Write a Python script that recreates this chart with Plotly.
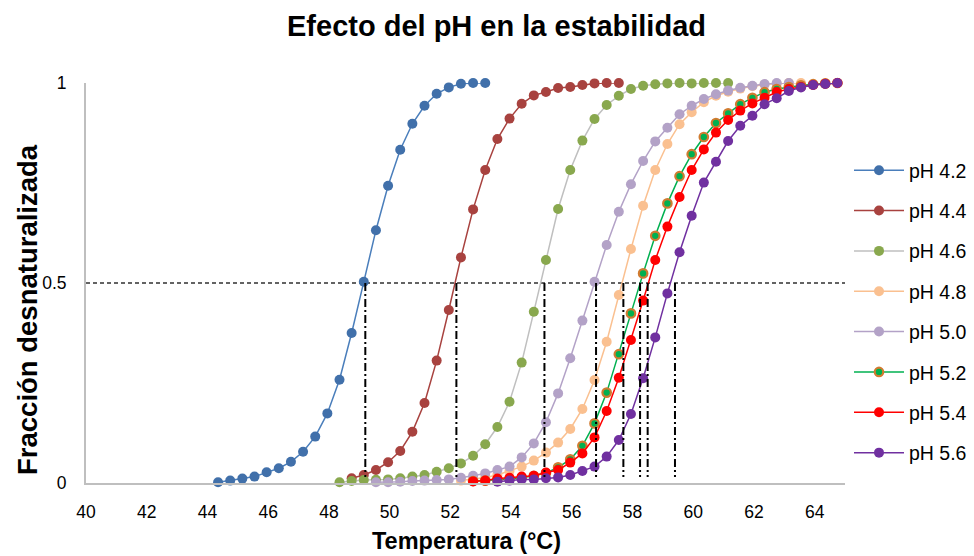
import plotly.graph_objects as go

# ---------------- data ----------------
temperatures = [44.35, 44.75, 45.15, 45.55, 45.95, 46.35, 46.75, 47.15, 47.55, 47.95,
                48.35, 48.75, 49.15, 49.55, 49.95, 50.35, 50.75, 51.15, 51.55, 51.95,
                52.35, 52.75, 53.15, 53.55, 53.95, 54.35, 54.75, 55.15, 55.55, 55.95,
                56.35, 56.75, 57.15, 57.55, 57.95, 58.35, 58.75, 59.15, 59.55, 59.95,
                60.35, 60.75, 61.15, 61.55, 61.95, 62.35, 62.75, 63.15, 63.55, 63.95,
                64.35, 64.75]

series_names = ["pH 4.2", "pH 4.4", "pH 4.6", "pH 4.8", "pH 5.0", "pH 5.2", "pH 5.4", "pH 5.6"]

# first temperature of each series
series_start = [44.35, 48.75, 48.35, 52.35, 49.55, 52.75, 52.75, 53.55]

ph42 = [0.002, 0.006, 0.011, 0.016, 0.027, 0.037, 0.053, 0.078, 0.116, 0.174, 0.258, 0.375,
        0.503, 0.632, 0.743, 0.833, 0.898, 0.943, 0.973, 0.989, 0.998, 1.0, 1.0]
ph44 = [0.012, 0.02, 0.0325, 0.052, 0.08, 0.128, 0.2, 0.306, 0.4325, 0.564, 0.684, 0.7825,
        0.86, 0.911, 0.948, 0.969, 0.9775, 0.9875, 0.99, 0.995, 0.999, 1.0, 1.0]
ph46 = [0.002, 0.005, 0.0075, 0.008, 0.009, 0.012, 0.016, 0.02, 0.028, 0.037, 0.049, 0.068,
        0.097, 0.14, 0.203, 0.301, 0.428, 0.5575, 0.685, 0.7825, 0.856, 0.91, 0.945, 0.968,
        0.985, 0.993, 0.997, 0.999, 1.0, 0.999, 1.0, 1.0, 1.0]
ph48 = [0.006, 0.01, 0.014, 0.02, 0.03, 0.041, 0.056, 0.076, 0.101, 0.135, 0.185, 0.2575,
        0.353, 0.47, 0.585, 0.693, 0.7825, 0.8475, 0.897, 0.927, 0.952, 0.968, 0.978, 0.986,
        0.992, 0.996, 0.998, 1.0, 1.0]
ph50 = [0.002, 0.002, 0.003, 0.005, 0.006, 0.0075, 0.009, 0.013, 0.018, 0.024, 0.0325, 0.041,
        0.064, 0.099, 0.152, 0.224, 0.312, 0.406, 0.503, 0.595, 0.678, 0.747, 0.805, 0.854,
        0.888, 0.922, 0.943, 0.96, 0.972, 0.981, 0.988, 0.993, 0.9975, 1.0, 1.0]
ph52 = [0.005, 0.006, 0.008, 0.01, 0.013, 0.018, 0.025, 0.039, 0.059, 0.093, 0.149, 0.226,
        0.322, 0.424, 0.524, 0.618, 0.699, 0.767, 0.822, 0.865, 0.9, 0.924, 0.947, 0.963,
        0.977, 0.985, 0.99, 0.994, 0.997, 0.999, 1.0]
ph54 = [0.004, 0.006, 0.011, 0.013, 0.016, 0.018, 0.026, 0.0325, 0.051, 0.074, 0.114, 0.18,
        0.263, 0.3575, 0.456, 0.5575, 0.641, 0.715, 0.7825, 0.834, 0.876, 0.9075, 0.931, 0.949,
        0.963, 0.9775, 0.985, 0.99, 0.995, 0.998, 1.0]
ph56 = [0.003, 0.006, 0.009, 0.009, 0.012, 0.014, 0.02, 0.03, 0.041, 0.066, 0.1075, 0.1725,
        0.262, 0.364, 0.474, 0.577, 0.668, 0.751, 0.803, 0.855, 0.893, 0.918, 0.947, 0.962,
        0.98, 0.989, 0.995, 0.9975, 1.0]
series_values = [ph42, ph44, ph46, ph48, ph50, ph52, ph54, ph56]

# melting temperatures (fraction = 0.5)
melting_temps = [49.2, 52.2, 55.1, 56.8, 57.7, 58.25, 58.5, 59.4]

x_ticks = [40, 42, 44, 46, 48, 50, 52, 54, 56, 58, 60, 62, 64]
y_ticks = [0, 0.5, 1]
y_tick_text = ["0", "0.5", "1"]

# ---------------- styles ----------------
marker_colors = ["#4170AA", "#A8423F", "#89A84E", "#FAC090", "#B3A2C7", "#00B050", "#FF0000", "#7030A0"]
line_colors = ["#4A7EBB", "#A8423F", "#BFBFBF", "#FAC090", "#B3A2C7", "#00B050", "#FF0000", "#7030A0"]
marker_borders = [None, None, None, None, None, "#D07B30", None, None]

FONT = "Liberation Sans, Arial, sans-serif"
W, H = 974, 556
ML, MR, MT, MB = 86, 129, 83, 73
PW = W - ML - MR
PH = H - MT - MB


def px_x(px):
    return (px - ML) / PW


def px_y(py):
    return (H - MB - py) / PH


fig = go.Figure()

# horizontal reference line at 0.5
fig.add_trace(go.Scatter(x=[40, 65], y=[0.5, 0.5], mode="lines",
                         line=dict(color="#303030", width=1.4, dash="4px,3px"),
                         showlegend=False, hoverinfo="skip"))

for i, name in enumerate(series_names):
    s = temperatures.index(series_start[i])
    xs = temperatures[s:s + len(series_values[i])]
    mk = dict(color=marker_colors[i], size=10)
    if marker_borders[i]:
        mk = dict(color=marker_colors[i], size=8.5, line=dict(color=marker_borders[i], width=2.2))
    fig.add_trace(go.Scatter(x=xs, y=series_values[i], mode="lines+markers", name=name,
                             legendgroup=name,
                             line=dict(color=line_colors[i], width=1.5),
                             marker=mk, cliponaxis=False))

for tm in melting_temps:
    fig.add_trace(go.Scatter(x=[tm, tm], y=[0.5, 0.015], mode="lines",
                             line=dict(color="black", width=2, dash="8px,3px,2px,3px"),
                             showlegend=False, hoverinfo="skip"))

fig.update_layout(
    width=W, height=H,
    margin=dict(l=ML, r=MR, t=MT, b=MB, autoexpand=False),
    paper_bgcolor="white", plot_bgcolor="white",
    font=dict(family=FONT, color="#000000"),
    showlegend=True,
    legend=dict(x=px_x(849), xanchor="left", y=px_y(151), yanchor="top",
                font=dict(size=19.5, family=FONT, color="#000000"),
                traceorder="grouped", tracegroupgap=12, itemwidth=50,
                bgcolor="rgba(0,0,0,0)"),
    xaxis=dict(range=[40, 65], tickvals=x_ticks, showgrid=False, zeroline=False,
               showline=True, linecolor="#BFBFBF", linewidth=2, ticks="",
               tickfont=dict(size=17.5, family=FONT, color="#000000"),
               ticklabelstandoff=12),
    yaxis=dict(range=[0, 1], tickvals=y_ticks, ticktext=y_tick_text, showgrid=False,
               zeroline=False, showline=True, linecolor="#BFBFBF", linewidth=2, ticks="",
               tickfont=dict(size=17.5, family=FONT, color="#000000"),
               ticklabelstandoff=14),
)

fig.add_annotation(text="<b>Efecto del pH en la estabilidad</b>",
                   x=px_x(496), y=px_y(26), xref="paper", yref="paper",
                   xanchor="center", yanchor="middle",
                   showarrow=False, font=dict(size=29, family=FONT, color="#000000"))
fig.add_annotation(text="<b>Temperatura (°C)</b>",
                   x=px_x(466), y=px_y(541), xref="paper", yref="paper",
                   xanchor="center", yanchor="middle",
                   showarrow=False, font=dict(size=23.5, family=FONT, color="#000000"))
fig.add_annotation(text="<b>Fracción desnaturalizada</b>", textangle=-90,
                   x=px_x(27), y=px_y(310), xref="paper", yref="paper",
                   xanchor="center", yanchor="middle",
                   showarrow=False, font=dict(size=27.5, family=FONT, color="#000000"))

fig.write_html("out.html")
